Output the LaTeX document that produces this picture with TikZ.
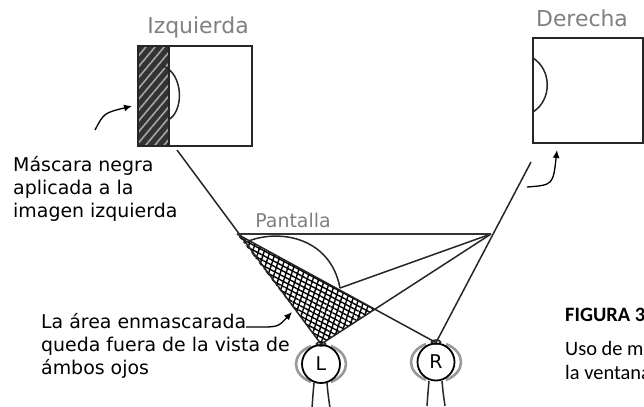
\documentclass[tikz,border=0pt]{standalone}
\usepackage{fontspec}
\setmainfont{DejaVu Sans}
\newfontfamily\figfont{Carlito}
\usetikzlibrary{patterns,patterns.meta,arrows.meta}

\begin{document}
\begin{tikzpicture}[x=1bp,y=-1bp,
    ink/.style={line width=1.5bp,black!85},
    frame/.style={line width=2bp,black!85},
    lid/.style={line width=2.6bp,black!40},
    tag/.style={text=black!50,inner sep=0,font=\fontsize{22}{22}\selectfont},
    note/.style={inner sep=0,anchor=north west,align=left,font=\fontsize{19}{23}\selectfont},
    caption/.style={inner sep=0,align=left,font=\fontsize{20.5}{24}\selectfont\figfont},
    eyenode/.style={circle,draw,line width=1.8bp,minimum size=38bp,inner sep=0,font=\fontsize{19}{19}\selectfont},
    pointer/.style={line width=1.3bp,-{Latex[length=8bp,width=7bp]}},
    eyeball/.pic={
      \draw[lid] (-10,-18) .. controls (-30,-10) and (-30,10) .. (-10,18);
      \draw[lid] (10,-18) .. controls (30,-10) and (30,10) .. (10,18);
      \draw[ink,fill=white] (0,-20) ellipse (4.5 and 2);
      \draw[ink] (-7,19) .. controls (-8,30) .. (-9,44);
      \draw[ink] (6,19) .. controls (7,30) .. (9,44);
    }]
  \useasboundingbox (0,0) rectangle (644,406);
  \clip (0,0) rectangle (644,406);

  % left image with its black mask
  \fill[black!80] (138,46) rectangle (169,146);
  \fill[pattern={Lines[angle=50,distance=7bp,line width=1.6bp]},pattern color=black!35]
    (138,46) rectangle (169,146);
  \draw[frame] (138,46) rectangle (252,146);
  \draw[frame] (169,46) -- (169,146);
  \draw[ink] (163,66) .. controls (184,74) and (184,112) .. (168,120);
  \node[tag] (izq) at (198,27) {Izquierda};

  % right image
  \draw[frame] (533,38) rectangle (643,143);
  \draw[ink] (533,58) .. controls (552,70) and (552,100) .. (533,112);
  \node[tag] (der) at (582,18) {Derecha};

  % eyes
  \pic at (321,364) {eyeball};
  \pic at (436,362) {eyeball};
  \node[eyenode] (L) at (321,364) {L};
  \node[eyenode,minimum size=37bp] (R) at (436,362) {R};

  % screen and sight lines
  \coordinate (sl) at (237,234);
  \coordinate (sr) at (491,234);
  \coordinate (lt) at (177,150);
  \coordinate (rt) at (531,162);
  \coordinate (tip) at (340,288);
  \coordinate (cross) at (intersection of sl--R.north and sr--L.north);

  \fill[pattern={Lines[angle=-28,distance=4.5bp,line width=1.4bp]}] (sl) -- (L.north) -- (cross) -- cycle;
  \fill[pattern={Lines[angle=72,distance=5.5bp,line width=1.4bp]}] (sl) -- (L.north) -- (cross) -- cycle;

  \begin{scope}[ink]
    \draw (lt) -- (L.north);
    \draw (rt) -- (R.north);
    \draw (sl) -- (R.north);
    \draw (sr) -- (L.north);
    \draw (sr) -- (tip);
    \draw (244,243) .. controls (275,228) and (330,235) .. (tip);
  \end{scope}
  \draw[line width=2.2bp,black!80] (sl) -- (sr);
  \node[tag,font=\fontsize{19}{19}\selectfont] (pant) at (293,220) {Pantalla};

  % notes and pointers
  \node[note] (mask) at (13,156) {Máscara negra\\aplicada a la\\imagen izquierda};
  \node[note] (area) at (41,313) {La área enmascarada\\queda fuera de la vista de\\ámbos ojos};
  \coordinate (m0) at (95,130);
  \coordinate (m1) at (132,106);
  \draw[pointer] (m0) .. controls (104,113) .. (m1);
  \coordinate (a0) at (246,327);
  \coordinate (a1) at (292,312);
  \draw[pointer] (a0) -- (258,327) .. controls (278,327) .. (a1);
  \coordinate (d0) at (527,187);
  \coordinate (d1) at (557,150);
  \draw[pointer] (d0) .. controls (553,185) .. (d1);

  % caption
  \node[caption,anchor=base west] (fig) at (565,321) {\bfseries FIGURA 3};
  \node[caption,anchor=north west] (uso) at (565,341) {Uso de m\\la ventana};
\end{tikzpicture}
\end{document}
